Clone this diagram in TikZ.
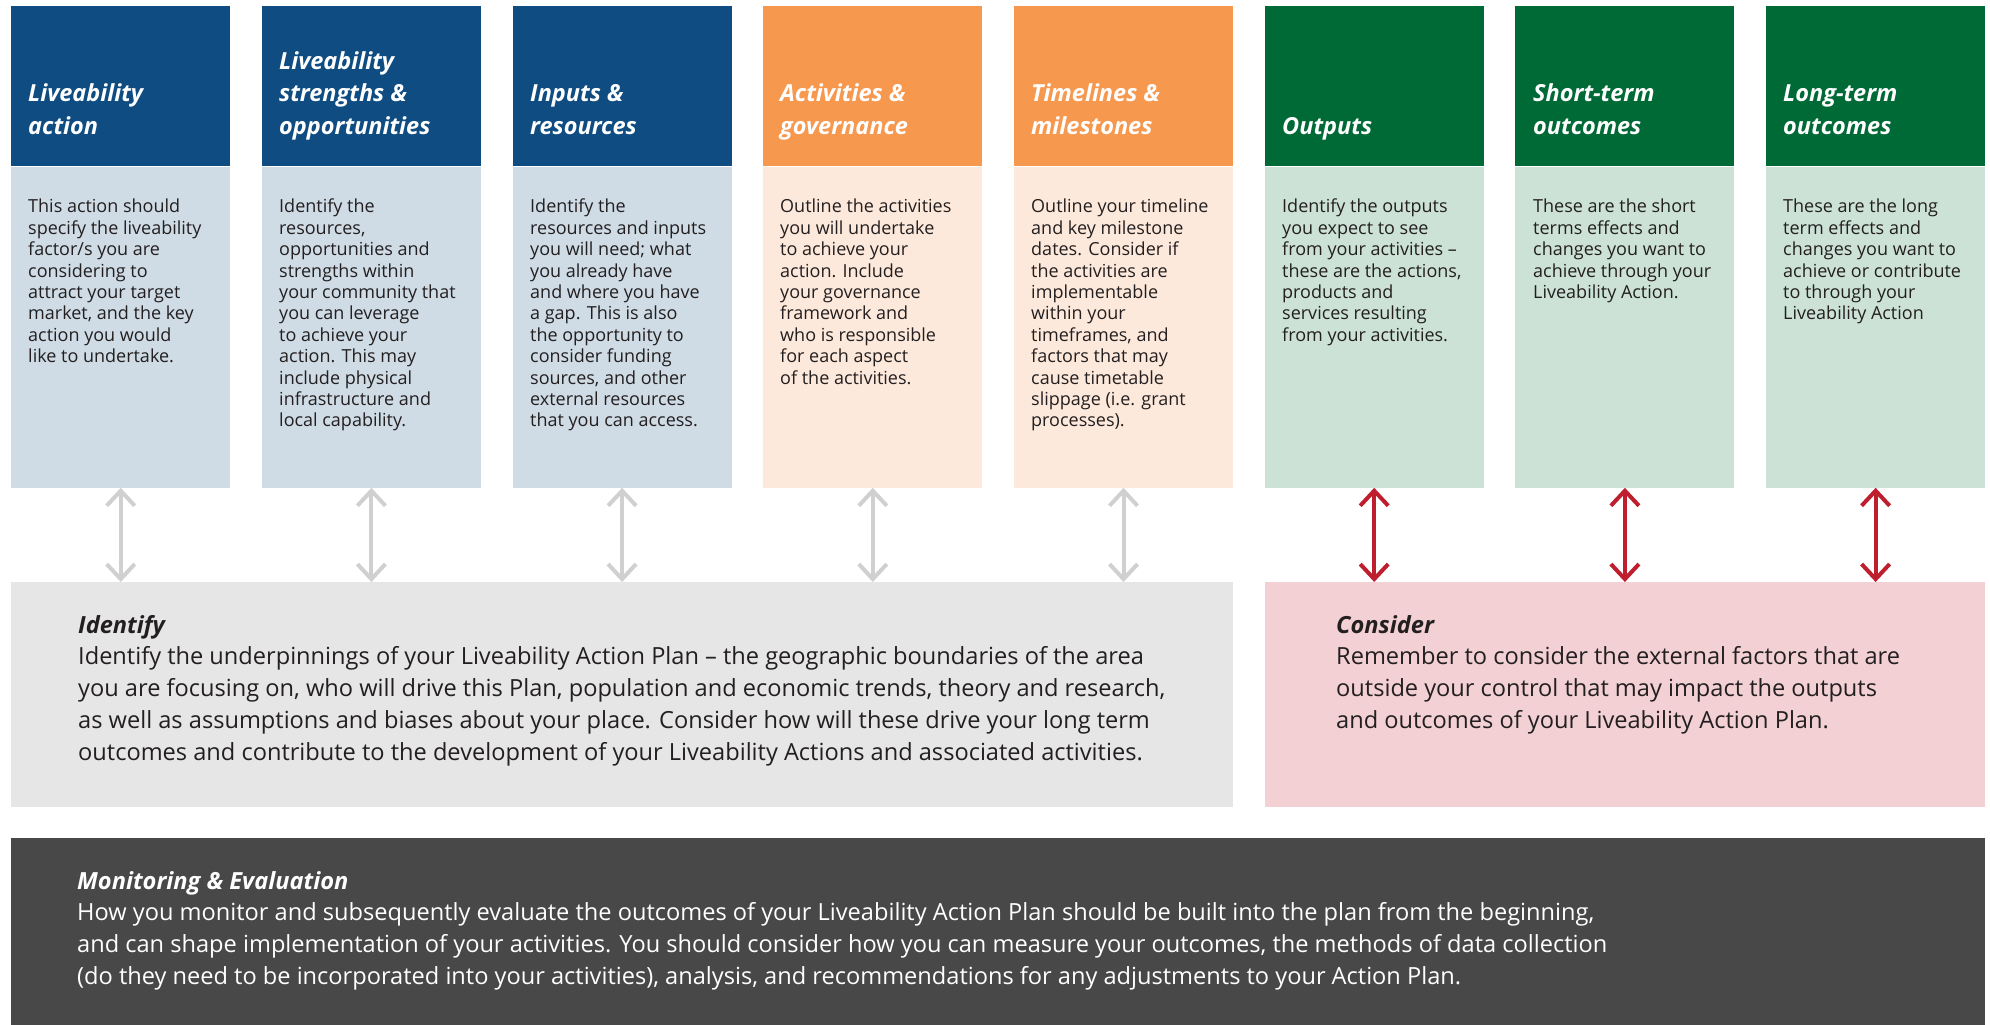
\documentclass[tikz,border=0pt]{standalone}
\usepackage{fontspec}
\setmainfont{Open Sans}
\usetikzlibrary{arrows.meta}

\definecolor{navyhead}{HTML}{0F4C81}
\definecolor{navybody}{HTML}{CFDCE6}
\definecolor{orangehead}{HTML}{F7984F}
\definecolor{orangebody}{HTML}{FDE9DB}
\definecolor{greenhead}{HTML}{006A37}
\definecolor{greenbody}{HTML}{CCE2D7}
\definecolor{identifybg}{HTML}{E6E6E6}
\definecolor{considerbg}{HTML}{F2D0D4}
\definecolor{monitorbg}{HTML}{484848}
\definecolor{linkgray}{HTML}{D0D0D0}
\definecolor{linkred}{HTML}{BE1E2D}
\definecolor{ink}{HTML}{231F20}

\tikzset{
  colhead/.style={rectangle,inner sep=0pt,anchor=north west,minimum width=219pt,minimum height=160pt},
  colbody/.style={rectangle,inner sep=0pt,anchor=north west,minimum width=219pt,minimum height=321pt},
  headtxt/.style={anchor=base west,align=left,inner sep=0pt,text=white,font=\fontsize{23.5}{32.5}\selectfont\bfseries\itshape},
  bodytxt/.style={anchor=north west,align=left,inner sep=0pt,text=ink,font=\fontsize{18}{21.4}\selectfont},
  widetxt/.style={anchor=north west,align=left,inner sep=0pt,font=\fontsize{23.6}{31.7}\selectfont},
  link/.style={{Straight Barb[length=15pt,width=28pt]}-{Straight Barb[length=15pt,width=28pt]},line width=4pt}
}

\begin{document}
\begin{tikzpicture}
  [x=1pt,y=-1pt]
  \useasboundingbox (0,0) rectangle (1990,1025);

  % columns
  \foreach \i/\hc/\bc in {1/navyhead/navybody,2/navyhead/navybody,3/navyhead/navybody,
                          4/orangehead/orangebody,5/orangehead/orangebody,
                          6/greenhead/greenbody,7/greenhead/greenbody,8/greenhead/greenbody}
  {
    \node[colhead,fill=\hc] (h\i) at ({11+250.7*(\i-1)},6) {};
    \node[colbody,fill=\bc] (b\i) at (h\i.south west) {};
  }

  % bottom panels
  \node[rectangle,inner sep=0pt,anchor=north west,fill=identifybg,minimum width=1222pt,minimum height=225pt] (identify) at (11,582) {};
  \node[rectangle,inner sep=0pt,anchor=north west,fill=considerbg,minimum width=720pt,minimum height=225pt] (consider) at (1265,582) {};
  \node[rectangle,inner sep=0pt,anchor=north west,fill=monitorbg,minimum width=1974pt,minimum height=187pt] (monitor) at (11,838) {};

  % headings
  \node[headtxt] (t1) at (28,134) {Liveability\\action};
  \node[headtxt] (t2) at (279,134) {Liveability\\strengths \&\\opportunities};
  \node[headtxt] (t3) at (530,134) {Inputs \&\\resources};
  \node[headtxt] (t4) at (780,134) {Activities \&\\governance};
  \node[headtxt] (t5) at (1031,134) {Timelines \&\\milestones};
  \node[headtxt] (t6) at (1282,134) {Outputs};
  \node[headtxt] (t7) at (1533,134) {Short-term\\outcomes};
  \node[headtxt] (t8) at (1783,134) {Long-term\\outcomes};

  % column texts
  \node[bodytxt] (d1) at (28,199) {This action should\\specify the liveability\\factor/s you are\\considering to\\attract your target\\market, and the key\\action you would\\like to undertake.};
  \node[bodytxt] (d2) at (279,199) {Identify the\\resources,\\opportunities and\\strengths within\\your community that\\you can leverage\\to achieve your\\action. This may\\include physical\\infrastructure and\\local capability.};
  \node[bodytxt] (d3) at (530,199) {Identify the\\resources and inputs\\you will need; what\\you already have\\and where you have\\a gap. This is also\\the opportunity to\\consider funding\\sources, and other\\external resources\\that you can access.};
  \node[bodytxt] (d4) at (780,199) {Outline the activities\\you will undertake\\to achieve your\\action. Include\\your governance\\framework and\\who is responsible\\for each aspect\\of the activities.};
  \node[bodytxt] (d5) at (1031,199) {Outline your timeline\\and key milestone\\dates. Consider if\\the activities are\\implementable\\within your\\timeframes, and\\factors that may\\cause timetable\\slippage (i.e. grant\\processes).};
  \node[bodytxt] (d6) at (1282,199) {Identify the outputs\\you expect to see\\from your activities –\\these are the actions,\\products and\\services resulting\\from your activities.};
  \node[bodytxt] (d7) at (1533,199) {These are the short\\terms effects and\\changes you want to\\achieve through your\\Liveability Action.};
  \node[bodytxt] (d8) at (1783,199) {These are the long\\term effects and\\changes you want to\\achieve or contribute\\to through your\\Liveability Action};

  % panel texts
  \node[widetxt,text=ink] (identifytxt) at (78,615) {\textbf{\textit{Identify}}\\Identify the underpinnings of your Liveability Action Plan – the geographic boundaries of the area\\you are focusing on, who will drive this Plan, population and economic trends, theory and research,\\as well as assumptions and biases about your place. Consider how will these drive your long term\\outcomes and contribute to the development of your Liveability Actions and associated activities.};
  \node[widetxt,text=ink] (considertxt) at (1336,615) {\textbf{\textit{Consider}}\\Remember to consider the external factors that are\\outside your control that may impact the outputs\\and outcomes of your Liveability Action Plan.};
  \node[widetxt,text=white] (monitortxt) at (77,871) {\textbf{\textit{Monitoring \& Evaluation}}\\How you monitor and subsequently evaluate the outcomes of your Liveability Action Plan should be built into the plan from the beginning,\\and can shape implementation of your activities. You should consider how you can measure your outcomes, the methods of data collection\\(do they need to be incorporated into your activities), analysis, and recommendations for any adjustments to your Action Plan.};

  % links
  \foreach \i in {1,...,5}
    \draw[link,draw=linkgray] (b\i.south) -- (b\i.south |- identify.north);
  \foreach \i in {6,7,8}
    \draw[link,draw=linkred] (b\i.south) -- (b\i.south |- consider.north);
\end{tikzpicture}
\end{document}
